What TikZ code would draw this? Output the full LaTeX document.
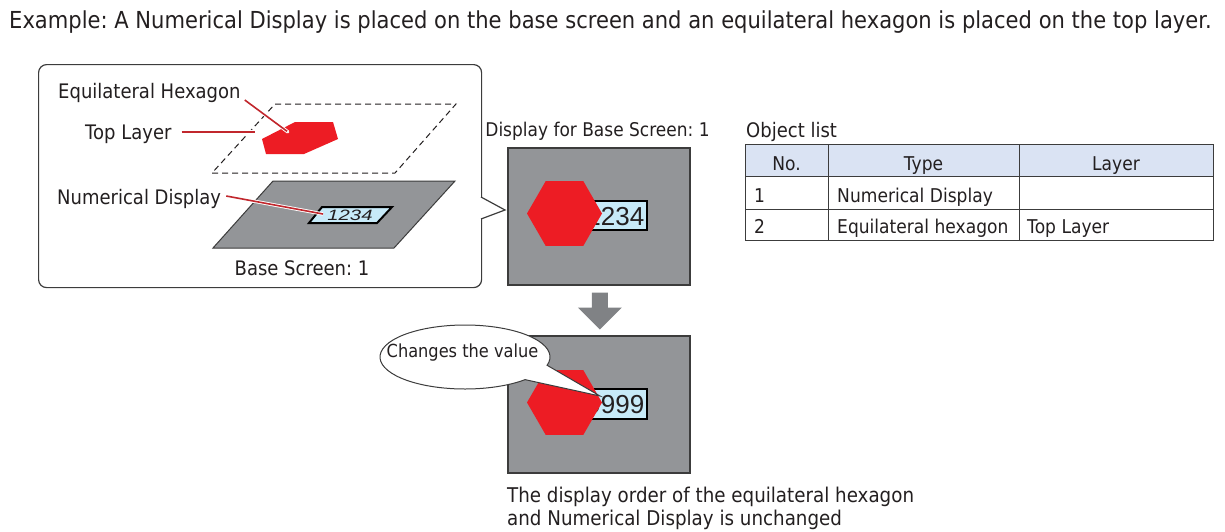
\documentclass[tikz,border=0pt]{standalone}
\usepackage{fontspec}
\setmainfont{DejaVu Sans}[FakeStretch=0.9]
\newfontfamily\arialf{Liberation Sans}
\usetikzlibrary{calc,shapes.geometric}
\frenchspacing
\definecolor{scr}{HTML}{939598}
\definecolor{hexred}{HTML}{ED1C24}
\definecolor{lnred}{HTML}{C1272D}
\definecolor{numbg}{HTML}{C7EAF8}
\definecolor{hdr}{HTML}{DAE3F3}
\definecolor{edge}{HTML}{3C3C3C}
\definecolor{txt}{HTML}{231F20}
\definecolor{arrowgray}{HTML}{808285}
\begin{document}
\begin{tikzpicture}[x=1pt,y=-1pt,
  lbl/.style={font=\fontsize{20}{24}\selectfont, inner sep=0, anchor=base west, text=txt},
  tbl/.style={font=\fontsize{19}{23}\selectfont, inner sep=0, anchor=base west, text=txt},
  tblc/.style={tbl, anchor=base},
  cell/.style={draw=edge, line width=1.1, minimum height=32, inner sep=0, anchor=north west},
  screen/.style={draw=edge, fill=scr, line width=1.5, inner sep=0, anchor=north west, minimum width=182, minimum height=137},
  numbox/.style={draw=black, line width=2, fill=numbg, inner sep=0, anchor=north east},
  numtxt/.style={font=\arialf\fontsize{26}{26}\selectfont, inner sep=0, anchor=base east, text=txt},
  hexa/.style={regular polygon, regular polygon sides=6, minimum size=75, fill=hexred, inner sep=0},
  pointer/.style={draw=lnred, line width=1.6, preaction={draw=white, line width=3.4}}]
\useasboundingbox (0,0) rectangle (1225,531);

% title
\node[lbl, font=\fontsize{23.4}{28}\selectfont] (title) at (9,28) {Example: A Numerical Display is placed on the base screen and an equilateral hexagon is placed on the top layer.};

% callout box
\node[draw=edge, line width=1.2, rounded corners=8, minimum width=443, minimum height=223, anchor=north west, inner sep=0, fill=white] (callout) at (38,64) {};
\coordinate (pa) at (481,197);
\coordinate (ptip) at (505,210);
\coordinate (pb) at (481,219);
\fill[white] ($(pa)+(-1,0)$) -- (ptip) -- ($(pb)+(-1,0)$) -- cycle;
\draw[edge, line width=1.2] (pa) -- (ptip) -- (pb);

% top layer (dashed)
\draw[txt, line width=1, dash pattern=on 6pt off 4pt] (212,173) -- (395,173) -- (456,104) -- (275,104) -- cycle;
\fill[hexred] (262,139) -- (295,122) -- (333,122) -- (338,139) -- (304,154) -- (266,154) -- cycle;

% base screen
\draw[edge, fill=scr, line width=1] (213,248) -- (394,248) -- (455,181) -- (273,181) -- cycle;
\draw[black, fill=numbg, line width=2] (309,223) -- (377,223) -- (392,207) -- (322,207) -- cycle;
\node[inner sep=0, text=txt] (num0) at (350,215.5) {\scalebox{1.35}[1]{\arialf\itshape\fontsize{15}{15}\selectfont 1234}};

% labels in callout
\node[lbl] (eqlbl) at (58,98) {Equilateral Hexagon};
\node[lbl] (tllbl) at (85,139) {Top Layer};
\node[lbl] (ndlbl) at (57,204) {Numerical Display};
\node[lbl, anchor=base] (bslbl) at (302,275) {Base Screen: 1};

\coordinate (eqend) at (288,132);
\coordinate (tlend) at (255,132);
\coordinate (ndend) at (323,214);
\draw[pointer] ($(eqlbl.base east)+(4,2)$) -- (eqend);
\fill[white] (eqend) circle (1.4);
\draw[pointer] ($(tllbl.base east)+(10,-7)$) -- (tlend);
\draw[pointer] ($(ndlbl.base east)+(5,-8)$) -- (ndend);

% display 1
\node[lbl, anchor=base, font=\fontsize{18.9}{22}\selectfont] (d1lbl) at (597.5,136) {Display for Base Screen: 1};
\node[screen] (disp1) at (507,147) {};
\node[numbox, minimum width=90, minimum height=29] (nb1) at (648,200) {};
\node[numtxt] (nt1) at (644.5,225) {1234};
\node[hexa] (hex1) at (564.5,213.5) {};

% arrow
\fill[arrowgray] ($(disp1.south)+(-7,7)$) -- ($(disp1.south)+(9,7)$) -- ($(disp1.south)+(9,22)$) -- ($(disp1.south)+(23,22)$) -- ($(disp1.south)+(1,44)$) -- ($(disp1.south)+(-21,22)$) -- ($(disp1.south)+(-7,22)$) -- cycle;

% display 2
\node[screen] (disp2) at (507,335) {};
\node[numbox, minimum width=90, minimum height=30] (nb2) at (648,388) {};
\node[numtxt] (nt2) at (644.5,413) {9999};
\node[hexa] (hex2) at (564.5,402.5) {};

% speech bubble
\coordinate (bc) at (465,357);
\coordinate (btip) at (600,396);
\draw[edge, fill=white, line width=1] (btip) -- ($(bc)+(15:85 and 32)$) arc[start angle=15, end angle=-315, x radius=85, y radius=32] -- cycle;
\node[lbl, font=\fontsize{18}{22}\selectfont, anchor=base] (bubtxt) at (462.5,357) {Changes the value};

% caption
\node[lbl, font=\fontsize{20.3}{24}\selectfont] (cap1) at (507,502) {The display order of the equilateral hexagon};
\node[lbl, font=\fontsize{20.3}{24}\selectfont] (cap2) at (507,525) {and Numerical Display is unchanged};

% table
\node[lbl] (objlbl) at (746,137) {Object list};
\node[cell, fill=hdr, minimum width=83] (h1) at (745,144) {};
\node[cell, fill=hdr, minimum width=191] (h2) at (828,144) {};
\node[cell, fill=hdr, minimum width=194] (h3) at (1019,144) {};
\node[cell, minimum width=83, minimum height=33] (a1) at (745,176) {};
\node[cell, minimum width=191, minimum height=33] (a2) at (828,176) {};
\node[cell, minimum width=194, minimum height=33] (a3) at (1019,176) {};
\node[cell, minimum width=83, minimum height=31] (b1) at (745,209) {};
\node[cell, minimum width=191, minimum height=31] (b2) at (828,209) {};
\node[cell, minimum width=194, minimum height=31] (b3) at (1019,209) {};
\node[tblc] (t11) at (786.5,170) {No.};
\node[tblc] (t12) at (923.5,170) {Type};
\node[tblc] (t13) at (1116,170) {Layer};
\node[tbl] (t21) at (754,202) {1};
\node[tbl] (t22) at (837,202) {Numerical Display};
\node[tbl] (t31) at (754,233) {2};
\node[tbl] (t32) at (837,233) {Equilateral hexagon};
\node[tbl] (t33) at (1027,233) {Top Layer};
\end{tikzpicture}
\end{document}
